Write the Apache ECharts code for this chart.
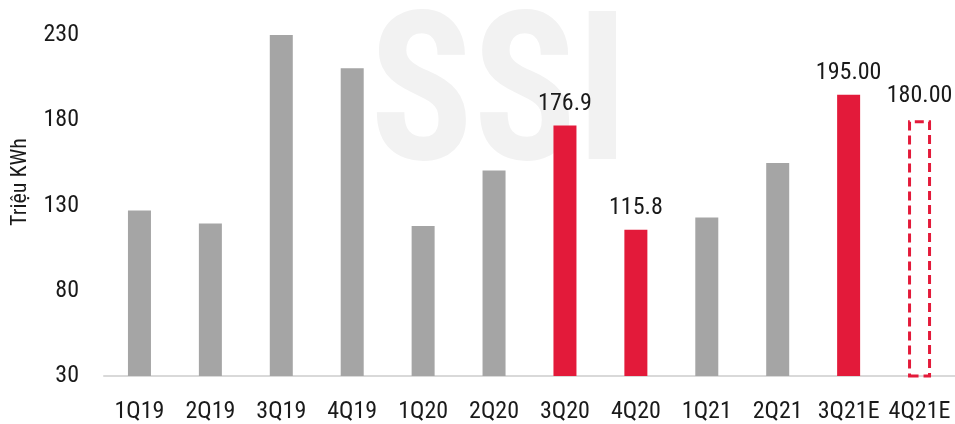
<!DOCTYPE html>
<html>
<head>
<meta charset="utf-8">
<script src="https://cdn.jsdelivr.net/npm/echarts@6/dist/echarts.min.js"></script>
<style>
html,body{margin:0;padding:0;background:#fff;}
#c{width:955px;height:424px;}
</style>
</head>
<body>
<div id="c"></div>
<script>
const categories = ['1Q19','2Q19','3Q19','4Q19','1Q20','2Q20','3Q20','4Q20','1Q21','2Q21','3Q21E','4Q21E'];
const values = [127, 119.5, 230, 210.5, 118, 150.5, 176.9, 115.8, 123, 155, 195, 180];
const kinds = ['g','g','g','g','g','g','r','r','g','g','r','e'];
const labelTexts = [null,null,null,null,null,null,'176.9','115.8',null,null,'195.00','180.00'];
const yTicks = [30, 80, 130, 180, 230];
const yName = 'Triệu KWh';

const FONT = '"Liberation Sans Narrow", "Roboto Condensed", "Roboto", sans-serif';
const GRAY = '#a5a5a5';
const RED = '#e31a3a';

const data = values.map((v, i) => {
  const item = { value: v };
  if (kinds[i] === 'r') item.itemStyle = { color: RED };
  else if (kinds[i] === 'e') item.itemStyle = { color: 'rgba(0,0,0,0)', borderColor: RED, borderWidth: 3, borderType: [9, 5] };
  else item.itemStyle = { color: GRAY };
  if (labelTexts[i]) {
    item.label = { show: true, position: 'top', formatter: labelTexts[i], distance: kinds[i] === 'e' ? 12 : 10 };
  }
  return item;
});

const chart = echarts.init(document.getElementById('c'));
chart.setOption({
  animation: false,
  graphic: [{
    type: 'text',
    left: 370, top: 3,
    z: -10,
    silent: true,
    scaleX: 0.92,
    style: { text: 'SSI', fontFamily: FONT, fontWeight: 'bold', fontSize: 208, fill: '#f2f2f2' }
  }, {
    type: 'text',
    x: 20, y: 182,
    rotation: Math.PI / 2,
    silent: true,
    style: { text: yName, fontFamily: FONT, fontSize: 22, fill: '#1a1a1a', align: 'center', verticalAlign: 'middle' }
  }],
  grid: { left: 104, right: 0, top: 35, bottom: 41 },
  xAxis: {
    type: 'category',
    data: categories,
    axisLine: { lineStyle: { color: '#d9d9d9', width: 2 } },
    axisTick: { show: false },
    axisLabel: { color: '#1a1a1a', fontFamily: FONT, fontSize: 24, margin: 24, interval: 0 }
  },
  yAxis: {
    type: 'value',
    min: yTicks[0], max: yTicks[yTicks.length - 1], interval: 50,
    axisLine: { show: false },
    axisTick: { show: false },
    splitLine: { show: false },
    axisLabel: { color: '#1a1a1a', fontFamily: FONT, fontSize: 24, margin: 25 }
  },
  series: [{
    type: 'bar',
    data: data,
    barWidth: 23,
    label: { color: '#1a1a1a', fontFamily: FONT, fontSize: 24 }
  }]
});
</script>
</body>
</html>
